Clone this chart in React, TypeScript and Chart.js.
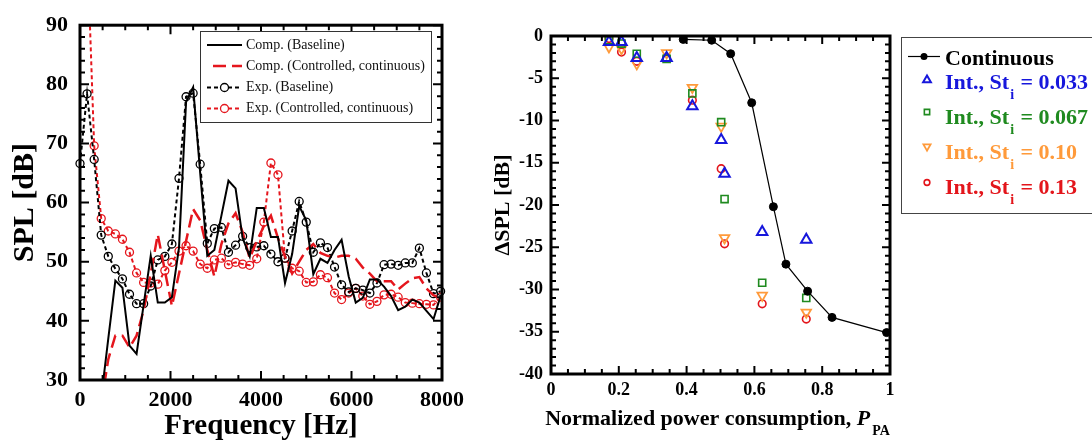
import React, { useEffect, useRef } from "react";
import { Chart, registerables } from "chart.js";
Chart.register(...registerables);

const SERIF = '"Liberation Serif", "Times New Roman", serif';

// ---------------- Left panel data ----------------
const freqHz = [
  0, 156, 313, 469, 625, 781, 938, 1094, 1250, 1406,
  1563, 1719, 1875, 2031, 2188, 2344, 2500, 2656, 2813, 2969,
  3125, 3281, 3438, 3594, 3750, 3906, 4063, 4219, 4375, 4531,
  4688, 4844, 5000, 5156, 5313, 5469, 5625, 5781, 5938, 6094,
  6250, 6406, 6563, 6719, 6875, 7031, 7188, 7344, 7500, 7656,
  7813, 7969,
];
const compBaseline = [
  null, null, null, 27, 37, 46.8, 45.6, 35.8, 34.4, 42.7,
  51.0, 43.1, 43.1, 44.0, 52.4, 77.0, 79.5, 65.0, 51.0, 52.0,
  57.8, 63.7, 62.4, 54.0, 50.9, 59.1, 59.1, 54.2, 54.2, 46.4,
  51.3, 59.4, 57.0, 47.9, 50.5, 49.8, 52.0, 53.7, 47.5, 43.1,
  43.9, 47.0, 47.0, 45.8, 44.2, 41.8, 42.4, 43.6, 43.1, 41.7,
  40.3, 44.2,
];
const compControlled = [
  null, null, null, 26, 33.5, 37.5, 37.5, 35.5, 37.5, 41.8,
  48.0, 54.6, 48.5, 42.5, 48.0, 53.5, 58.9, 57.0, 52.0, 47.5,
  53.0, 56.5, 58.2, 55.0, 50.6, 53.5, 56.0, 57.8, 54.0, 50.9,
  48.0, 50.0, 52.0, 53.0, 51.5, 51.0, 50.7, 51.0, 51.0, 50.5,
  49.0, 48.0, 46.7, 46.7, 46.7, 45.3, 46.3, 47.2, 47.4, 45.5,
  44.3, 44.0,
];
const expBaseline = [
  66.6, 78.4, 67.3, 54.5, 50.9, 48.8, 47.1, 44.5, 42.9, 42.9,
  45.9, 50.3, 50.9, 53.0, 64.1, 77.9, 78.5, 66.5, 53.1, 55.6,
  55.8, 51.6, 52.8, 54.3, 52.4, 52.5, 52.7, 51.3, 50.0, 50.6,
  55.2, 60.2, 56.7, 51.6, 53.2, 52.4, 49.1, 46.1, 44.9, 45.5,
  45.2, 44.7, 46.4, 49.5, 49.6, 49.4, 49.8, 49.8, 52.3, 48.1,
  44.6, 45.0,
];
const expControlled = [
  null, 104, 69.6, 57.3, 55.2, 54.7, 53.8, 51.6, 48.1, 46.5,
  46.4, 46.2, 48.5, 49.9, 51.8, 52.7, 51.8, 49.6, 48.9, 50.3,
  50.6, 49.5, 49.9, 49.6, 49.4, 50.5, 56.7, 66.7, 64.7, 50.6,
  48.9, 48.4, 46.5, 46.6, 47.8, 47.3, 44.7, 43.6, 44.7, 45.5,
  44.2, 42.8, 43.3, 44.4, 44.5, 44.0, 43.1, 43.0, 42.9, 42.8,
  42.7, 44.0,
];
const freqTicks = [0, 2000, 4000, 6000, 8000];
const splTicks = [30, 40, 50, 60, 70, 80, 90];
const leftLegendLabels = [
  "Comp. (Baseline)",
  "Comp. (Controlled, continuous)",
  "Exp. (Baseline)",
  "Exp. (Controlled, continuous)",
];

// ---------------- Right panel data ----------------
const contPower = [0.39, 0.474, 0.53, 0.592, 0.656, 0.693, 0.757, 0.829, 0.99];
const contDSPL = [-0.4, -0.5, -2.1, -7.9, -20.2, -27.0, -30.2, -33.3, -35.1];
const intPower = [0.171, 0.208, 0.253, 0.341, 0.417, 0.502, 0.512, 0.623, 0.753];
const intSt033 = [-0.7, -0.7, -2.6, -2.6, -8.3, -12.3, -16.3, -23.2, -24.1];
const intSt067 = [-0.5, -0.9, -2.1, -2.7, -6.8, -10.2, -19.3, -29.2, -31.0];
const intSt010 = [-1.3, -1.5, -3.3, -2.0, -6.1, -10.7, -23.9, -30.7, -32.7];
const intSt013 = [-0.3, -1.9, -3.0, -2.6, -7.6, -15.7, -24.6, -31.7, -33.5];
const powerTicks = [0, 0.2, 0.4, 0.6, 0.8, 1];
const dsplTicks = [-40, -35, -30, -25, -20, -15, -10, -5, 0];
const rightLegendValues = ["0.033", "0.067", "0.10", "0.13"];

const RED = "#e5161d";
const BLUE = "#1717dc";
const GREEN = "#1f8a1f";
const ORANGE = "#ff9a3a";
const RED2 = "#e3151b";

const toXY = (xs: number[], ys: (number | null)[]) =>
  xs.map((x, i) => ({ x, y: ys[i] }));

// Inward ticks on all four sides + thick frame
const frameTicks = {
  id: "frameTicks",
  afterDatasetsDraw(chart: any, _args: any, o: any) {
    const { ctx, chartArea: a, scales } = chart;
    const xs = scales.x;
    const ys = scales.y;
    ctx.save();
    ctx.strokeStyle = "#000";
    ctx.lineWidth = o.tickWidth;
    const nx = Math.round((xs.max - xs.min) / o.xMinor);
    for (let i = 0; i <= nx; i++) {
      const v = xs.min + i * o.xMinor;
      const r = v / o.xMajor;
      const major = Math.abs(r - Math.round(r)) < 1e-6;
      const len = major ? o.majorLen : o.minorLen;
      const px = xs.getPixelForValue(v);
      ctx.beginPath();
      ctx.moveTo(px, a.bottom);
      ctx.lineTo(px, a.bottom - len);
      ctx.moveTo(px, a.top);
      ctx.lineTo(px, a.top + len);
      ctx.stroke();
    }
    const ny = Math.round((ys.max - ys.min) / o.yMinor);
    for (let i = 0; i <= ny; i++) {
      const v = ys.min + i * o.yMinor;
      const r = v / o.yMajor;
      const major = Math.abs(r - Math.round(r)) < 1e-6;
      const len = major ? o.majorLen : o.minorLen;
      const py = ys.getPixelForValue(v);
      ctx.beginPath();
      ctx.moveTo(a.left, py);
      ctx.lineTo(a.left + len, py);
      ctx.moveTo(a.right, py);
      ctx.lineTo(a.right - len, py);
      ctx.stroke();
    }
    ctx.lineWidth = o.frameWidth;
    ctx.strokeRect(a.left, a.top, a.right - a.left, a.bottom - a.top);
    ctx.restore();
  },
};

const leftLegend = {
  id: "leftLegend",
  afterDraw(chart: any) {
    const { ctx } = chart;
    const bx = 200, by = 31, bw = 231, bh = 91;
    ctx.save();
    ctx.fillStyle = "#fff";
    ctx.fillRect(bx, by, bw, bh);
    ctx.strokeStyle = "#333";
    ctx.lineWidth = 1;
    ctx.strokeRect(bx + 0.5, by + 0.5, bw, bh);
    const rows = [45, 66, 87.5, 108.5];
    chart.data.datasets.forEach((ds: any, i: number) => {
      const y = rows[i];
      ctx.save();
      ctx.beginPath();
      ctx.rect(207, y - 5, 35, 10);
      ctx.clip();
      ctx.strokeStyle = ds.borderColor;
      ctx.lineWidth = ds.borderWidth;
      ctx.setLineDash(ds.borderDash || []);
      ctx.beginPath();
      ctx.moveTo(i === 1 ? 213 : 207, y);
      ctx.lineTo(243, y);
      ctx.stroke();
      ctx.restore();
      if (ds.pointRadius > 0) {
        ctx.setLineDash([]);
        ctx.strokeStyle = ds.pointBorderColor;
        ctx.lineWidth = ds.pointBorderWidth;
        ctx.fillStyle = "#fff";
        ctx.beginPath();
        ctx.arc(224.5, y, ds.pointRadius, 0, Math.PI * 2);
        ctx.fill();
        ctx.stroke();
      }
      ctx.fillStyle = "#111";
      ctx.font = `14px ${SERIF}`;
      ctx.textBaseline = "middle";
      ctx.textAlign = "left";
      ctx.fillText(leftLegendLabels[i], 246, y);
    });
    ctx.restore();
  },
};

function drawMarker(ctx: any, style: string, x: number, y: number, r: number, rot: number) {
  ctx.beginPath();
  if (style === "triangle") {
    let rad = (rot * Math.PI) / 180;
    ctx.moveTo(x + Math.sin(rad) * r, y - Math.cos(rad) * r);
    rad += (2 * Math.PI) / 3;
    ctx.lineTo(x + Math.sin(rad) * r, y - Math.cos(rad) * r);
    rad += (2 * Math.PI) / 3;
    ctx.lineTo(x + Math.sin(rad) * r, y - Math.cos(rad) * r);
    ctx.closePath();
  } else if (style === "rect") {
    const s = Math.SQRT1_2 * r;
    ctx.rect(x - s, y - s, 2 * s, 2 * s);
  } else {
    ctx.arc(x, y, r, 0, Math.PI * 2);
  }
}

const rightLegend = {
  id: "rightLegend",
  afterDraw(chart: any) {
    const { ctx } = chart;
    const bx = 411, by = 37, bw = 260, bh = 176;
    ctx.save();
    ctx.strokeStyle = "#444";
    ctx.lineWidth = 1;
    ctx.strokeRect(bx + 0.5, by + 0.5, bw, bh);
    const ds = chart.data.datasets;
    // Continuous
    ctx.strokeStyle = "#000";
    ctx.lineWidth = ds[0].borderWidth;
    ctx.beginPath();
    ctx.moveTo(418, 56.5);
    ctx.lineTo(450, 56.5);
    ctx.stroke();
    ctx.fillStyle = "#000";
    drawMarker(ctx, "circle", 434, 56.5, 3.5, 0);
    ctx.fill();
    ctx.font = `bold 22px ${SERIF}`;
    ctx.textBaseline = "alphabetic";
    ctx.textAlign = "left";
    ctx.fillText("Continuous", 455, 65);
    const markerY = [80, 112, 146.5, 182.5];
    const baseY = [88.5, 124, 158.5, 193.5];
    for (let i = 0; i < 4; i++) {
      const d = ds[i + 1];
      ctx.strokeStyle = d.pointBorderColor;
      ctx.lineWidth = d.pointBorderWidth;
      drawMarker(ctx, d.pointStyle, 437, markerY[i], d.pointRadius * 0.75, d.pointRotation || 0);
      ctx.stroke();
      ctx.fillStyle = d.pointBorderColor;
      ctx.font = `bold 22px ${SERIF}`;
      const t1 = "Int., St";
      ctx.fillText(t1, 455, baseY[i]);
      let x = 455 + ctx.measureText(t1).width + 1;
      ctx.font = `bold 14px ${SERIF}`;
      ctx.fillText("i", x, baseY[i] + 10);
      x += ctx.measureText("i").width + 1;
      ctx.font = `bold 22px ${SERIF}`;
      ctx.fillText(" = " + rightLegendValues[i], x, baseY[i]);
    }
    ctx.restore();
  },
};

const rightXTitle = {
  id: "rightXTitle",
  afterDraw(chart: any) {
    const { ctx, chartArea: a } = chart;
    ctx.save();
    ctx.fillStyle = "#000";
    ctx.textBaseline = "alphabetic";
    ctx.textAlign = "left";
    const t1 = "Normalized power consumption, ";
    ctx.font = `bold 22px ${SERIF}`;
    const w1 = ctx.measureText(t1).width;
    ctx.font = `italic bold 22px ${SERIF}`;
    const w2 = ctx.measureText("P").width;
    ctx.font = `bold 14px ${SERIF}`;
    const w3 = ctx.measureText("PA").width;
    const total = w1 + w2 + 2 + w3;
    let x = (a.left + a.right) / 2 - 3 - total / 2;
    const base = 425;
    ctx.font = `bold 22px ${SERIF}`;
    ctx.fillText(t1, x, base);
    x += w1;
    ctx.font = `italic bold 22px ${SERIF}`;
    ctx.fillText("P", x, base);
    x += w2 + 2;
    ctx.font = `bold 14px ${SERIF}`;
    ctx.fillText("PA", x, base + 10);
    ctx.restore();
  },
};

export default function App() {
  const leftRef = useRef<HTMLCanvasElement>(null);
  const rightRef = useRef<HTMLCanvasElement>(null);

  useEffect(() => {
    const tickFontL = { family: SERIF, size: 22, weight: "bold" as const };
    const left = new Chart(leftRef.current as HTMLCanvasElement, {
      type: "line",
      data: {
        datasets: [
          {
            data: toXY(freqHz, compBaseline),
            borderColor: "#000",
            borderWidth: 2,
            pointRadius: 0,
            fill: false,
          },
          {
            data: toXY(freqHz, compControlled),
            borderColor: RED,
            borderWidth: 2.5,
            borderDash: [13, 6],
            pointRadius: 0,
            fill: false,
          },
          {
            data: toXY(freqHz, expBaseline),
            borderColor: "#000",
            borderWidth: 2,
            borderDash: [4, 3],
            pointRadius: 4,
            pointStyle: "circle",
            pointBackgroundColor: "rgba(0,0,0,0)",
            pointBorderColor: "#000",
            pointBorderWidth: 1.3,
            fill: false,
            clip: 6,
          },
          {
            data: toXY(freqHz, expControlled),
            borderColor: RED,
            borderWidth: 2,
            borderDash: [4, 3],
            pointRadius: 4,
            pointStyle: "circle",
            pointBackgroundColor: "rgba(0,0,0,0)",
            pointBorderColor: RED,
            pointBorderWidth: 1.3,
            fill: false,
          },
        ] as any,
      },
      options: {
        animation: false,
        responsive: false,
        events: [],
        layout: { padding: { top: 21, right: 48, left: 0, bottom: 0 } },
        plugins: {
          legend: { display: false },
          tooltip: { enabled: false },
          frameTicks: { xMinor: 500, xMajor: 2000, yMinor: 2, yMajor: 10, majorLen: 9, minorLen: 5, tickWidth: 2, frameWidth: 3 },
        } as any,
        scales: {
          x: {
            type: "linear",
            min: 0,
            max: 8000,
            afterBuildTicks: (s: any) => {
              s.ticks = freqTicks.map((v) => ({ value: v }));
            },
            afterFit: (s: any) => {
              s.height = 63;
            },
            ticks: {
              font: tickFontL,
              color: "#000",
              padding: 7,
              maxRotation: 0,
              autoSkip: false,
              callback: (v: any) => String(v),
            },
            grid: { display: false, drawTicks: false },
            border: { display: false },
            title: {
              display: true,
              text: "Frequency [Hz]",
              color: "#000",
              font: { family: SERIF, size: 29, weight: "bold" },
              padding: { top: 0, bottom: -1 },
            },
          },
          y: {
            min: 30,
            max: 90,
            afterBuildTicks: (s: any) => {
              s.ticks = splTicks.map((v) => ({ value: v }));
            },
            afterFit: (s: any) => {
              s.width = 80;
            },
            ticks: {
              font: tickFontL,
              color: "#000",
              padding: 12,
              callback: (v: any) => String(v),
            },
            grid: { display: false, drawTicks: false },
            border: { display: false },
            title: {
              display: true,
              text: "SPL [dB]",
              color: "#000",
              font: { family: SERIF, size: 30, weight: "bold" },
              padding: { top: 7, bottom: 0 },
            },
          },
        } as any,
      },
      plugins: [frameTicks, leftLegend],
    });

    const tickFontR = { family: SERIF, size: 18, weight: "bold" as const };
    const right = new Chart(rightRef.current as HTMLCanvasElement, {
      type: "line",
      data: {
        datasets: [
          {
            data: toXY(contPower, contDSPL),
            borderColor: "#000",
            borderWidth: 1.2,
            pointRadius: 4,
            pointStyle: "circle",
            pointBackgroundColor: "#000",
            pointBorderColor: "#000",
            pointBorderWidth: 1,
            fill: false,
          },
          {
            data: toXY(intPower, intSt033),
            showLine: false,
            pointStyle: "triangle",
            pointRadius: 6,
            pointBorderColor: BLUE,
            pointBackgroundColor: "rgba(0,0,0,0)",
            pointBorderWidth: 2,
            borderColor: BLUE,
          },
          {
            data: toXY(intPower, intSt067),
            showLine: false,
            pointStyle: "rect",
            pointRadius: 5,
            pointBorderColor: GREEN,
            pointBackgroundColor: "rgba(0,0,0,0)",
            pointBorderWidth: 1.6,
            borderColor: GREEN,
          },
          {
            data: toXY(intPower, intSt010),
            showLine: false,
            pointStyle: "triangle",
            pointRotation: 180,
            pointRadius: 5.5,
            pointBorderColor: ORANGE,
            pointBackgroundColor: "rgba(0,0,0,0)",
            pointBorderWidth: 1.8,
            borderColor: ORANGE,
          },
          {
            data: toXY(intPower, intSt013),
            showLine: false,
            pointStyle: "circle",
            pointRadius: 3.8,
            pointBorderColor: RED2,
            pointBackgroundColor: "rgba(0,0,0,0)",
            pointBorderWidth: 1.6,
            borderColor: RED2,
          },
        ] as any,
      },
      options: {
        animation: false,
        responsive: false,
        events: [],
        layout: { padding: { top: 36, right: 202, left: 0, bottom: 0 } },
        plugins: {
          legend: { display: false },
          tooltip: { enabled: false },
          frameTicks: { xMinor: 0.05, xMajor: 0.2, yMinor: 1, yMajor: 5, majorLen: 8, minorLen: 5, tickWidth: 2, frameWidth: 3 },
        } as any,
        scales: {
          x: {
            type: "linear",
            min: 0,
            max: 1,
            afterBuildTicks: (s: any) => {
              s.ticks = powerTicks.map((v) => ({ value: v }));
            },
            afterFit: (s: any) => {
              s.height = 69;
            },
            ticks: {
              font: tickFontR,
              color: "#000",
              padding: 6,
              maxRotation: 0,
              autoSkip: false,
              callback: (v: any) => String(v),
            },
            grid: { display: false, drawTicks: false },
            border: { display: false },
            title: { display: false },
          },
          y: {
            min: -40,
            max: 0,
            afterBuildTicks: (s: any) => {
              s.ticks = dsplTicks.map((v) => ({ value: v }));
            },
            afterFit: (s: any) => {
              s.width = 61;
            },
            ticks: {
              font: tickFontR,
              color: "#000",
              padding: 8,
              callback: (v: any) => String(v),
            },
            grid: { display: false, drawTicks: false },
            border: { display: false },
            title: {
              display: true,
              text: "ΔSPL [dB]",
              color: "#000",
              font: { family: SERIF, size: 22, weight: "bold" },
              padding: { top: 0, bottom: 0 },
            },
          },
        } as any,
      },
      plugins: [frameTicks, rightLegend, rightXTitle],
    });

    return () => {
      left.destroy();
      right.destroy();
    };
  }, []);

  return (
    <div style={{ position: "fixed", left: 0, top: 0, width: 1092, height: 443, background: "#fff", overflow: "hidden" }}>
      <canvas ref={leftRef} width={490} height={443} style={{ position: "absolute", left: 0, top: 0, width: 490, height: 443 }} />
      <canvas ref={rightRef} width={602} height={443} style={{ position: "absolute", left: 490, top: 0, width: 602, height: 443 }} />
    </div>
  );
}
